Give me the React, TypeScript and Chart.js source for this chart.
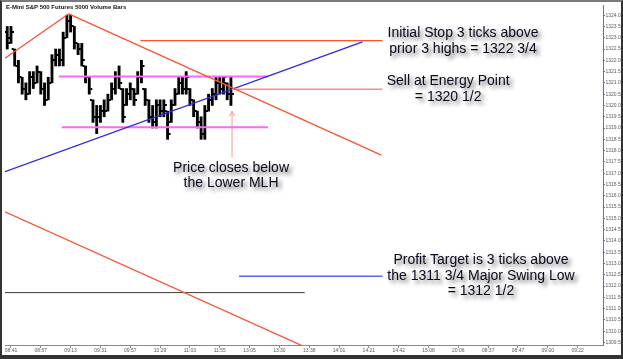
import React, { useEffect, useRef } from 'react';
import { Chart, registerables } from 'chart.js';

Chart.register(...registerables);

// ---------- data ----------
const chartTitle = 'E-Mini S&P 500 Futures 5000 Volume Bars';

const timeLabels = ['08:41', '08:57', '09:13', '09:31', '09:57', '10:29', '11:03', '11:55', '13:05', '13:30',
  '13:38', '14:01', '14:21', '14:42', '15:08', '20:06', '08:37', '08:47', '09:00', '09:22'];
const timeTickBars = [1, 9, 17, 25, 33, 41, 49, 57, 65, 73, 81, 89, 97, 105, 113, 121, 129, 137, 145, 153];

const priceTicks = [1309.5, 1310, 1310.5, 1311, 1311.5, 1312, 1312.5, 1313, 1313.5, 1314, 1314.5, 1315,
  1315.5, 1316, 1316.5, 1317, 1317.5, 1318, 1318.5, 1319, 1319.5, 1320, 1320.5, 1321, 1321.5, 1322,
  1322.5, 1323, 1323.5, 1324];

const barHigh = [1323.50, 1323.50, 1322.50, 1322.00, 1321.25, 1321.00, 1321.50, 1321.50, 1321.75, 1321.50,
  1321.00, 1321.25, 1322.25, 1322.50, 1322.50, 1323.25, 1324.00, 1324.00, 1323.50, 1322.75,
  1322.75, 1321.75, 1321.25, 1320.25, 1320.00, 1320.00, 1320.25, 1320.50, 1321.00, 1321.50,
  1321.75, 1320.75, 1320.75, 1321.00, 1320.75, 1321.50, 1322.00, 1320.75, 1320.25, 1320.00,
  1320.25, 1320.25, 1320.25, 1319.75, 1320.25, 1320.75, 1321.25, 1321.25, 1321.50, 1320.75,
  1320.25, 1319.75, 1319.50, 1320.00, 1320.50, 1320.75, 1321.25, 1321.25, 1321.25, 1321.00, 1321.25];
const barLow = [1322.50, 1322.75, 1321.75, 1321.00, 1320.50, 1320.25, 1320.50, 1320.75, 1321.00, 1320.50,
  1320.00, 1320.25, 1321.00, 1321.75, 1321.75, 1321.75, 1323.00, 1323.25, 1322.50, 1322.25,
  1321.75, 1321.00, 1320.50, 1319.25, 1318.75, 1319.25, 1319.50, 1319.75, 1320.25, 1320.50,
  1320.75, 1319.25, 1320.00, 1320.25, 1320.00, 1320.50, 1321.00, 1320.00, 1319.25, 1319.00,
  1319.00, 1319.50, 1319.50, 1318.50, 1319.25, 1320.00, 1320.50, 1320.50, 1320.50, 1320.00,
  1319.50, 1319.00, 1318.50, 1318.50, 1319.75, 1320.00, 1320.25, 1320.50, 1320.50, 1320.25, 1320.00];
const barOpen = [1323.25, 1323.00, 1322.50, 1321.75, 1321.25, 1320.75, 1320.50, 1321.25, 1321.00, 1321.50,
  1320.75, 1320.25, 1321.00, 1322.00, 1322.25, 1322.00, 1323.00, 1323.75, 1323.50, 1322.75,
  1322.50, 1321.75, 1321.25, 1320.25, 1319.50, 1319.50, 1319.75, 1319.75, 1320.25, 1320.75,
  1321.25, 1320.75, 1320.00, 1320.50, 1320.75, 1320.50, 1321.25, 1320.75, 1320.25, 1319.50,
  1319.25, 1320.00, 1319.75, 1319.75, 1319.25, 1320.00, 1320.50, 1321.00, 1320.75, 1320.75,
  1320.25, 1319.75, 1319.25, 1318.75, 1319.75, 1320.25, 1320.50, 1321.00, 1320.75, 1321.00, 1320.50];
const barClose = [1322.75, 1323.25, 1321.75, 1321.25, 1320.75, 1320.50, 1321.25, 1321.00, 1321.50, 1320.75,
  1320.25, 1321.00, 1322.00, 1322.25, 1322.00, 1323.00, 1323.75, 1323.50, 1322.75, 1322.50,
  1322.00, 1321.25, 1320.75, 1319.50, 1319.50, 1319.75, 1319.75, 1320.25, 1320.75, 1321.25,
  1321.00, 1319.50, 1320.50, 1320.75, 1320.25, 1321.25, 1321.75, 1320.25, 1319.50, 1319.25,
  1320.00, 1319.75, 1320.00, 1318.75, 1320.00, 1320.50, 1321.00, 1320.75, 1321.25, 1320.25,
  1319.75, 1319.25, 1318.75, 1319.75, 1320.25, 1320.50, 1321.00, 1320.75, 1321.25, 1320.50, 1320.50];

// drawn lines, as (bar index, price) end points
const leftTrendLine = [{ x: -0.6, y: 1322.09 }, { x: 16.49, y: 1324.06 }];
const upperMedianLine = [{ x: 16.49, y: 1324.06 }, { x: 100.36, y: 1317.80 }];
const lowerParallelLine = [{ x: -0.6, y: 1315.29 }, { x: 84.07, y: 1308.99 }];
const lowerMedianLine = [{ x: -0.6, y: 1317.07 }, { x: 95.29, y: 1322.82 }];
const stopLevel = [{ x: 35.72, y: 1322.87 }, { x: 100.63, y: 1322.87 }];
const entryLevel = [{ x: 60.3, y: 1320.72 }, { x: 100.63, y: 1320.72 }];
const rangeTop = [{ x: 13.82, y: 1321.28 }, { x: 69.91, y: 1321.28 }];
const rangeBottom = [{ x: 14.62, y: 1319.04 }, { x: 69.91, y: 1319.04 }];
const targetLevel = [{ x: 62.17, y: 1312.44 }, { x: 100.63, y: 1312.44 }];
const swingLowLevel = [{ x: -0.6, y: 1311.71 }, { x: 79.8, y: 1311.71 }];
const arrowShaft = [{ x: 60.3, y: 1317.71 }, { x: 60.3, y: 1319.74 }];

// notes: text with anchor (bar index, price)
const noteTexts = [
  'Initial Stop 3 ticks above', 'prior 3 highs = 1322 3/4',
  'Sell at Energy Point', '= 1320 1/2',
  'Price closes below', 'the Lower MLH',
  'Profit Target is 3 ticks above', 'the 1311 3/4 Major Swing Low', '= 1312 1/2',
];
const noteX = [122.26, 122.26, 118.26, 118.26, 60.03, 60.03, 127.07, 127.07, 127.07];
const noteY = [1323.19, 1322.50, 1321.06, 1320.36, 1317.24, 1316.57, 1313.16, 1312.44, 1311.78];

const FONT = "'Liberation Sans', Arial, sans-serif";
const SMALL_FONT = "'Liberation Sans Narrow', 'Arial Narrow', 'Liberation Sans', Arial, sans-serif";

function makeTick(side: 'left' | 'right') {
  const c = document.createElement('canvas');
  c.width = 8;
  c.height = 2;
  const g = c.getContext('2d')!;
  g.fillStyle = '#000';
  if (side === 'left') g.fillRect(1, 0, 2, 2);
  else g.fillRect(5, 0, 2, 2);
  return c;
}

const notesPlugin = {
  id: 'notesPlugin',
  afterDatasetsDraw(chart: any) {
    const { ctx, scales } = chart;
    const xs = scales.x;
    const ys = scales.y;
    ctx.save();
    // arrow head
    const ax = xs.getPixelForValue(arrowShaft[1].x);
    const ay = ys.getPixelForValue(arrowShaft[1].y);
    ctx.strokeStyle = '#f29a9a';
    ctx.lineWidth = 1;
    ctx.beginPath();
    ctx.moveTo(ax - 2.5, ay + 5);
    ctx.lineTo(ax, ay);
    ctx.lineTo(ax + 2.5, ay + 5);
    ctx.stroke();

    // notes
    ctx.font = `14px ${FONT}`;
    ctx.textAlign = 'center';
    ctx.textBaseline = 'middle';
    ctx.fillStyle = '#08081e';
    ctx.shadowColor = 'rgba(0,0,0,0.6)';
    ctx.shadowBlur = 4;
    ctx.shadowOffsetX = 3;
    ctx.shadowOffsetY = 3;
    noteTexts.forEach((t, i) => {
      ctx.fillText(t, xs.getPixelForValue(noteX[i]), ys.getPixelForValue(noteY[i]));
    });
    ctx.restore();

    // title
    ctx.save();
    ctx.font = `bold 6px ${FONT}`;
    ctx.fillStyle = '#111';
    ctx.textAlign = 'left';
    ctx.textBaseline = 'middle';
    ctx.fillText(chartTitle, chart.chartArea.left + 1, chart.chartArea.top + 2.5);
    ctx.restore();
  },
};

function lineDs(data: any[], color: string, width: number) {
  return {
    type: 'line' as const,
    data,
    borderColor: color,
    borderWidth: width,
    pointRadius: 0,
    fill: false,
    tension: 0,
    order: 0,
  };
}

export default function App() {
  const ref = useRef<HTMLCanvasElement>(null);

  useEffect(() => {
    const openTick = makeTick('left');
    const closeTick = makeTick('right');
    const red = '#fa5233';
    const chart = new Chart(ref.current!, {
      type: 'bar',
      data: {
        datasets: [
          lineDs(leftTrendLine, red, 1.3),
          lineDs(upperMedianLine, red, 1.3),
          lineDs(lowerParallelLine, red, 1.3),
          lineDs(stopLevel, red, 1.3),
          lineDs(entryLevel, '#f7907c', 1.6),
          lineDs(lowerMedianLine, '#2a2ae6', 1.3),
          lineDs(rangeTop, '#ff66f2', 2),
          lineDs(rangeBottom, '#ff66f2', 2),
          lineDs(targetLevel, '#5a64f5', 1.5),
          lineDs(swingLowLevel, '#3c3c3c', 1),
          lineDs(arrowShaft, '#f29a9a', 1),
          {
            type: 'bar' as const,
            data: barHigh.map((h, i) => ({ x: i, y: [barLow[i], h] })) as any,
            backgroundColor: '#000',
            barThickness: 2.2,
            order: 2,
          },
          {
            type: 'line' as const,
            data: barOpen.map((o, i) => ({ x: i, y: o })),
            showLine: false,
            pointStyle: openTick as any,
            pointRadius: 3,
            order: 1,
          },
          {
            type: 'line' as const,
            data: barClose.map((c, i) => ({ x: i, y: c })),
            showLine: false,
            pointStyle: closeTick as any,
            pointRadius: 3,
            order: 1,
          },
        ] as any,
      },
      options: {
        animation: false,
        responsive: false,
        devicePixelRatio: 1,
        layout: { padding: { left: 3, top: 3, right: 0, bottom: 0 } },
        plugins: { legend: { display: false }, tooltip: { enabled: false } },
        scales: {
          x: {
            type: 'linear',
            min: -0.6,
            max: 159.8,
            offset: false,
            afterFit: (s: any) => { s.height = 14; },
            afterBuildTicks: (s: any) => { s.ticks = timeTickBars.map((v) => ({ value: v })); },
            grid: { display: true, offset: false, drawOnChartArea: false, drawTicks: true, tickLength: 3, color: '#8a8a8a' },
            border: { display: true, color: '#8a8a8a', width: 1 },
            ticks: {
              autoSkip: false,
              maxRotation: 0,
              padding: 0,
              color: '#5a5a5a',
              font: { size: 5, family: SMALL_FONT },
              callback: (_v: any, i: number) => timeLabels[i],
            },
          },
          y: {
            type: 'linear',
            position: 'right',
            min: 1309.39,
            max: 1324.45,
            afterFit: (s: any) => { s.width = 20; },
            afterBuildTicks: (s: any) => { s.ticks = priceTicks.map((v) => ({ value: v })); },
            grid: { display: true, drawOnChartArea: false, drawTicks: true, tickLength: 2, color: '#7070a8' },
            border: { display: true, color: '#7070a8', width: 1 },
            ticks: {
              padding: 0.5,
              color: '#5a5a5a',
              font: { size: 5, family: SMALL_FONT },
              callback: (v: any) => Number(v).toFixed(2),
            },
          },
        },
      } as any,
      plugins: [notesPlugin],
    });
    return () => chart.destroy();
  }, []);

  return (
    <div style={{ position: 'fixed', left: 0, top: 0, width: 623, height: 359, background: '#fff' }}>
      <canvas ref={ref} width={623} height={359} style={{ display: 'block' }} />
      <div
        style={{
          position: 'absolute', left: 0, top: 0, width: 623, height: 359, boxSizing: 'border-box',
          borderTop: '2px solid #7a7a7a', borderLeft: '2px solid #333', borderRight: '2px solid #333',
          borderBottom: '4px solid #333', pointerEvents: 'none',
        }}
      />
    </div>
  );
}
